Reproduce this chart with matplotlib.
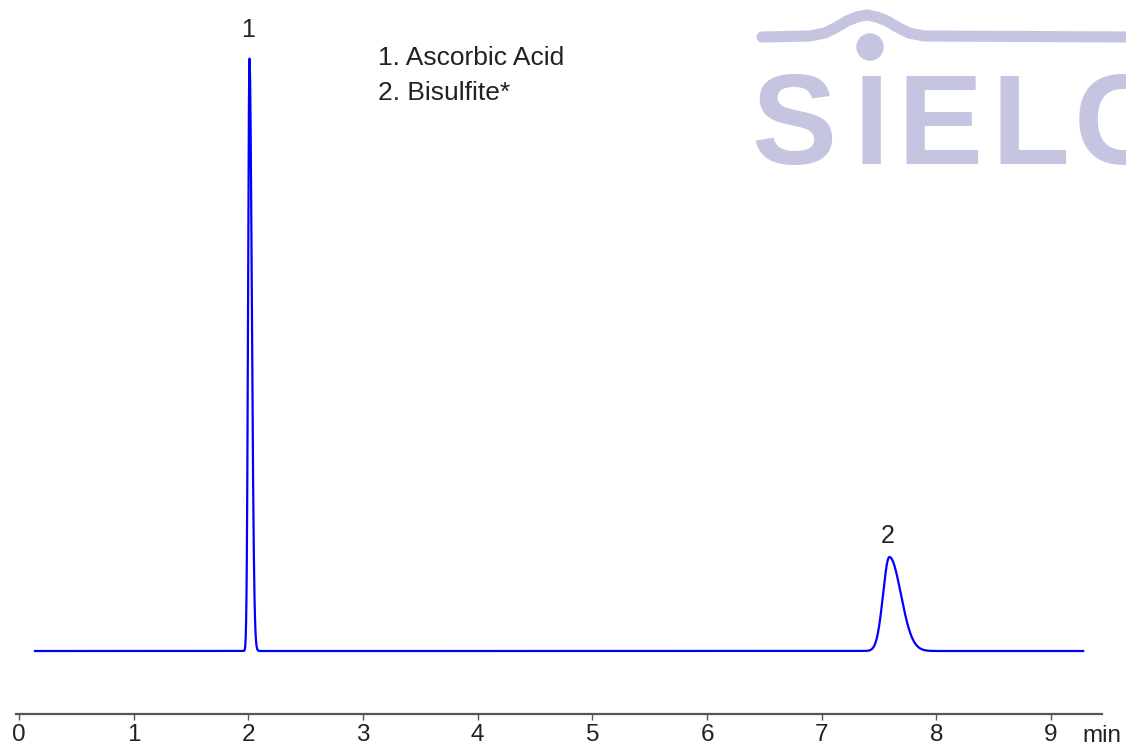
import numpy as np
import matplotlib.pyplot as plt
from matplotlib.lines import Line2D
from matplotlib.patches import Circle

# peak table
peak_ids = ['1', '2']
peak_names = ['Ascorbic Acid', 'Bisulfite*']
retention_times = [2.01, 7.59]      # min
peak_heights = [593, 94]            # mAU (arbitrary)
sigma_left = [0.012, 0.055]         # min
sigma_right = [0.020, 0.100]        # min
run_start, run_end = 0.14, 9.28     # min

tick_values = [0, 1, 2, 3, 4, 5, 6, 7, 8, 9]

W, H = 1126, 749
fig = plt.figure(figsize=(W / 100, H / 100), dpi=100)
plt.rcParams['font.family'] = ['Liberation Sans', 'DejaVu Sans']


def px(x, y):
    # pixel (from top-left) -> figure fraction
    return x / W, 1 - y / H


ax = fig.add_axes([16 / W, 35 / H, (1102 - 16) / W, 714 / H])
ax.patch.set_visible(False)
ax.set_xlim(-0.026, 9.444)
ax.set_ylim(-63, 651)

t = np.linspace(run_start, run_end, 6000)
signal = np.zeros_like(t)
for rt, h, sl, sr in zip(retention_times, peak_heights, sigma_left, sigma_right):
    s = np.where(t < rt, sl, sr)
    signal += h * np.exp(-0.5 * ((t - rt) / s) ** 2)

ax.plot(t, signal, color='#0000ff', lw=1.6)

label_offsets = [20, 15]   # points above peak top
for pid, rt, h, off in zip(peak_ids, retention_times, peak_heights, label_offsets):
    ax.annotate(pid, (rt, h), xytext=(-1, off), textcoords='offset points',
                ha='center', va='center', fontsize=18, color='#222222')

for sp in ['left', 'top', 'right']:
    ax.spines[sp].set_visible(False)
ax.spines['bottom'].set_color('#555555')
ax.spines['bottom'].set_linewidth(1.6)
ax.set_yticks([])
ax.set_xticks(tick_values)
ax.set_xticklabels([str(v) for v in tick_values])
ax.tick_params(axis='x', direction='out', length=4, width=1, color='#555555',
               labelsize=17.5, labelcolor='#222222', pad=3.5)

fig.text(*px(1102, 736), 'min', ha='center', va='center', fontsize=17.5, color='#222222')

# compound list
for i, (pid, name) in enumerate(zip(peak_ids, peak_names)):
    fig.text(*px(378, 65 + 35 * i), f'{pid}. {name}', ha='left', va='baseline',
             fontsize=19, color='#222222')

# watermark logo
logo_col = '#c5c5e1'
for ch, cx in zip(['S', 'I', 'E', 'L', 'C'], [794, 871, 940, 1030, 1120]):
    fig.text(*px(cx, 164), ch, ha='center', va='baseline', fontsize=92,
             fontweight='bold', color=logo_col, zorder=0)
fig.add_artist(Circle((870 / 100, (H - 47) / 100), 0.13, transform=fig.dpi_scale_trans,
                      color=logo_col, zorder=0))
sx = np.array([762, 810, 825, 837, 847, 857, 867, 877, 887, 897, 909, 924, 1130])
sy = np.array([37, 36, 33, 27, 21, 17, 15, 17, 21, 27, 33, 36, 37])
fig.add_artist(Line2D(sx / 100, (H - sy) / 100, transform=fig.dpi_scale_trans,
                      color=logo_col, lw=8, solid_capstyle='round',
                      solid_joinstyle='round', zorder=0))

fig.savefig('out.png', dpi=100)
